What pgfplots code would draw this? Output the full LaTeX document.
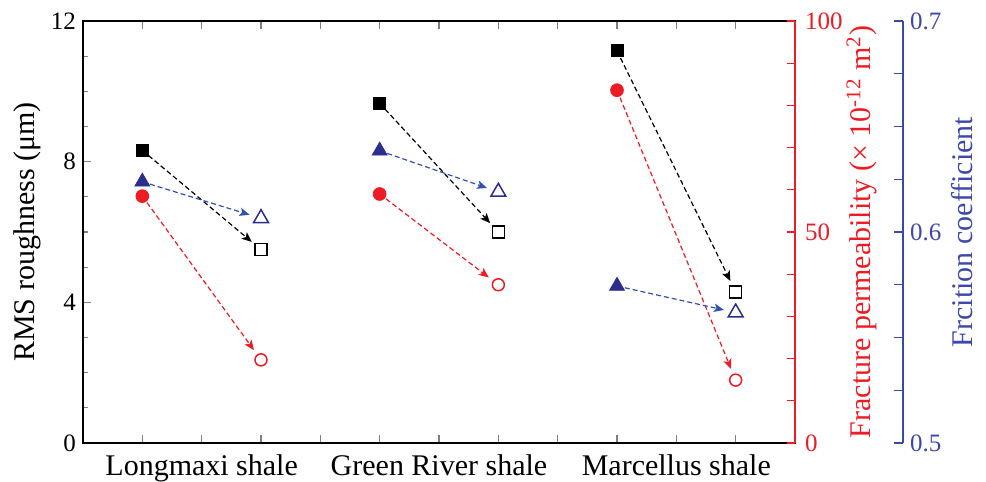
\documentclass[border=0pt]{standalone}
\usepackage{fontspec}
\setmainfont{Liberation Serif}
\usepackage{pgfplots}
\pgfplotsset{compat=1.18}
\usetikzlibrary{arrows.meta}
\definecolor{myred}{RGB}{237,28,36}
\definecolor{myblue}{RGB}{43,46,140}
\definecolor{axblue}{RGB}{62,72,168}
\definecolor{lineblue}{RGB}{50,80,180}
\begin{document}
\begin{tikzpicture}
\path[use as bounding box] (-41.5pt,-19.5pt) rectangle (451.5pt,221.5pt);
\pgfplotsset{
  base/.style={scale only axis, width=356pt, height=211pt, xmin=0, xmax=12,
    /pgf/number format/assume math mode=true,
    tick label style={font=\fontsize{12.5}{14}\selectfont},
    clip=false,
    axis line style={line width=0.65pt},
    every tick/.append style={line width=0.6pt},
  },
  arr/.style={dash pattern=on 2.5pt off 1.5pt, line width=0.6pt,
    -{Stealth[length=5pt,width=4.2pt,inset=1.2pt]}, shorten >=6pt, shorten <=4pt},
}
% ---------- main axis: RMS roughness ----------
\begin{axis}[base, ymin=0, ymax=12,
  ytick={0,4,8,12}, minor ytick={1,2,3,5,6,7,9,10,11},
  ytick pos=left, xtick pos=both, tick align=inside,
  xtick={1,2,3,4,5,6,7,8,9,10,11},
  xticklabels={,Longmaxi shale,,,,Green River shale,,,,Marcellus shale,},
  x tick label style={font=\fontsize{15}{18}\selectfont, yshift=-2.5pt},
  major tick length=4pt, minor tick length=2.5pt,
  ylabel={RMS roughness (μm)},
  every axis y label/.style={at={(axis description cs:-0.0787,0.5)}, rotate=90, anchor=center, font=\fontsize{15}{18}\selectfont},
]
\addplot[black, arr] coordinates {(1,8.32) (3,5.50)};
\addplot[black, arr] coordinates {(5,9.66) (7,6.00)};
\addplot[black, arr] coordinates {(9,11.15) (11,4.30)};
\addplot[only marks, mark=square*, mark size=3pt, black] coordinates {(1,8.32) (5,9.66) (9,11.15)};
\addplot[only marks, mark=square, mark size=3pt, black, mark options={fill=white, line width=0.75pt}] coordinates {(3,5.50) (7,6.00) (11,4.30)};
\end{axis}
% ---------- red axis: permeability ----------
\begin{axis}[base, ymin=0, ymax=100,
  axis y line*=right, axis x line=none, tick align=inside,
  ytick={0,10,20,30,40,50,60,70,80,90,100},
  yticklabels={0,,,,,50,,,,,100},
  major tick length=4pt,
  y axis line style={myred}, ytick style={myred}, yticklabel style={color=myred, xshift=1.5pt},
  ylabel={Fracture permeability (× 10\textsuperscript{-12} m\textsuperscript{2})},
  every axis y label/.style={at={(axis description cs:1.094,0.5)}, rotate=90, anchor=center, color=myred, font=\fontsize{15}{18}\selectfont},
]
\addplot[myred, arr] coordinates {(1,58.5) (3,19.7)};
\addplot[myred, arr] coordinates {(5,59.0) (7,37.5)};
\addplot[myred, arr] coordinates {(9,83.6) (11,14.9)};
\addplot[only marks, mark=*, mark size=3.2pt, myred] coordinates {(1,58.5) (5,59.0) (9,83.6)};
\addplot[only marks, mark=*, mark size=3pt, myred, mark options={fill=white, line width=0.75pt}] coordinates {(3,19.7) (7,37.5) (11,14.9)};
\end{axis}
% ---------- blue axis: friction coefficient ----------
\begin{axis}[base, width=410pt, xmax=13.82, ymin=0.5, ymax=0.7,
  axis y line*=right, axis x line=none, tick align=inside,
  ytick={0.5,0.525,0.55,0.575,0.6,0.625,0.65,0.675,0.7},
  yticklabels={0.5,,,,0.6,,,,0.7},
  major tick length=4.5pt,
  y axis line style={axblue}, ytick style={axblue}, yticklabel style={color=axblue},
  ylabel={Frcition coefficient},
  every axis y label/.style={at={(axis description cs:1.072,0.5)}, rotate=90, anchor=center, color=axblue, font=\fontsize{15}{18}\selectfont},
]
\addplot[lineblue, arr] coordinates {(1,0.6238) (3,0.6065)};
\addplot[lineblue, arr] coordinates {(5,0.6385) (7,0.619)};
\addplot[lineblue, arr] coordinates {(9,0.5744) (11,0.5618)};
\addplot[only marks, mark=triangle*, mark size=4.3pt, myblue] coordinates {(1,0.6238) (5,0.6385) (9,0.5744)};
\addplot[only marks, mark=triangle, mark size=4.3pt, myblue, mark options={fill=white, line width=0.75pt}] coordinates {(3,0.6065) (7,0.619) (11,0.5618)};
\end{axis}
\end{tikzpicture}
\end{document}
